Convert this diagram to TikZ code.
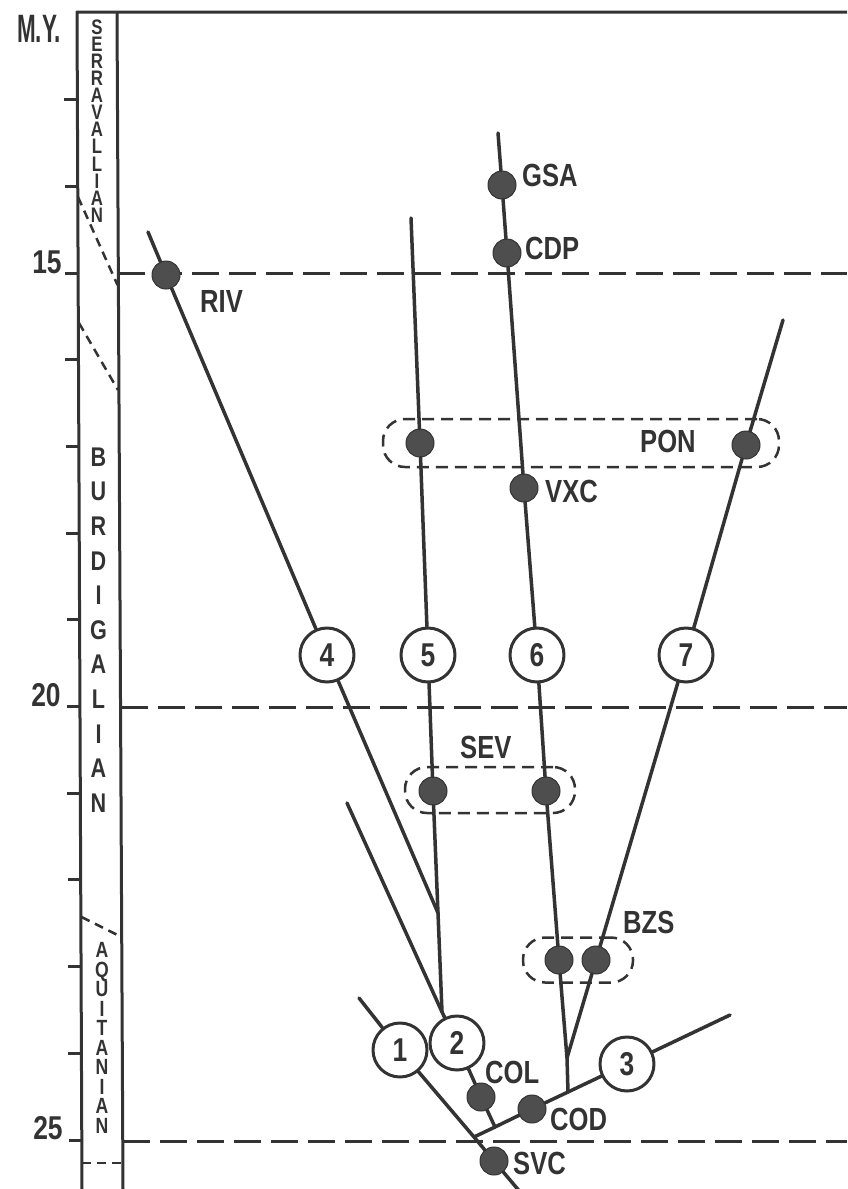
\documentclass[tikz,border=0pt]{standalone}
\usepackage{fontspec}
\setmainfont{Liberation Sans}
\newfontfamily\labfont[FakeStretch=0.8]{Liberation Sans}
\definecolor{ink}{HTML}{333333}
\definecolor{dotfill}{HTML}{4E4E4E}
\begin{document}
\begin{tikzpicture}[x=1pt,y=-1pt,line join=round,
  frame/.style={draw=ink,line width=3pt},
  branch/.style={draw=ink,line width=3.5pt,line cap=round},
  refdash/.style={draw=ink,line width=3pt,dash pattern=on 27pt off 10pt},
  coldash/.style={draw=ink,line width=2.5pt,dash pattern=on 9pt off 6pt},
  grp/.style={draw=ink,line width=2.5pt,dash pattern=on 12pt off 7pt,rounded corners=22pt,inner sep=0pt},
  dot/.style={circle,fill=dotfill,draw=ink,line width=1pt,minimum size=28pt,inner sep=0pt},
  num/.style={circle,draw=ink,line width=3pt,fill=white,minimum size=54pt,inner sep=0pt,
    font=\labfont\bfseries\fontsize{33}{36}\selectfont,text=ink},
  lab/.style={anchor=west,inner sep=0pt,font=\labfont\bfseries\fontsize{32}{36}\selectfont,text=ink},
  axlab/.style={inner sep=0pt,font=\labfont\bfseries\fontsize{33}{36}\selectfont,text=ink},
  stage/.style={inner sep=0pt,align=center,text=ink},
  colA/.style={stage,font=\labfont\bfseries\fontsize{21}{17.1}\selectfont},
  colB/.style={stage,font=\labfont\bfseries\fontsize{27}{34.6}\selectfont},
  colC/.style={stage,font=\labfont\bfseries\fontsize{22}{19.5}\selectfont}]
\useasboundingbox[fill=white] (0,0) rectangle (847,1189);

% frame and stage column
\draw[frame] (847,12) -- (77,12) -- (82,1189);
\draw[frame] (117,12) -- (123,1189);
\foreach \m in {13,...,25}{
  \pgfmathsetmacro\yy{273+86.7*(\m-15)}
  \pgfmathsetmacro\xx{77+5*(\yy-12)/1177}
  \draw[frame] (\xx-13,\yy) -- (\xx,\yy);
}
\node[axlab] (my) at (39,29) {\scalebox{0.85}[1.2]{M.Y.}};
\node[axlab] (y15) at (47,262) {15};
\node[axlab] (y20) at (46,695) {20};
\node[axlab] (y25) at (48,1128) {25};

% stage boundaries in column
\draw[coldash] (78,197) -- (117.5,285);
\draw[coldash] (79,323) -- (118,390);
\draw[coldash] (81.5,917) -- (121.5,937);
\draw[coldash] (82,1163) -- (123,1163);

% stage names
\node[colA] (serravallian) at (97,121) {S\\E\\R\\R\\A\\V\\A\\L\\L\\I\\A\\N};
\node[colB] (burdigalian) at (98.5,630) {B\\U\\R\\D\\I\\G\\A\\L\\I\\A\\N};
\node[colC] (aquitanian) at (102,1038) {A\\Q\\U\\I\\T\\A\\N\\I\\A\\N};

% time lines
\draw[refdash] (118.3,273) -- (847,273);
\draw[refdash] (120.5,707) -- (847,707);
\draw[refdash] (122.8,1141) -- (847,1141);

% groups
\node[grp,minimum width=396pt,minimum height=48pt] (ponbox) at (581,443) {};
\node[grp,minimum width=170pt,minimum height=46pt] (sevbox) at (490,790) {};
\node[grp,minimum width=110pt,minimum height=45pt] (bzsbox) at (578,960) {};

% coordinates
\coordinate (t4) at (148,232);
\coordinate (j45) at (438,913);
\coordinate (t5) at (411,218);
\coordinate (t2) at (347,803);
\coordinate (j2) at (442,1012);
\coordinate (j23) at (495,1127);
\coordinate (t1) at (359,998);
\coordinate (j13) at (474,1137);
\coordinate (b1) at (521,1193);
\coordinate (j67b) at (568,1092);
\coordinate (t3) at (730,1015);
\coordinate (t6) at (498,133);
\coordinate (j67) at (567,1058);
\coordinate (t7) at (783,320);

% nodes
\node[dot] (riv) at (166,275) {};
\node[num] (n4) at (327,655) {4};
\node[dot] (pon1) at (420,443) {};
\node[num] (n5) at (428,655) {5};
\node[dot] (sev1) at (433,791) {};
\node[num] (n2) at (457,1043) {2};
\node[dot] (col) at (481,1097) {};
\node[num] (n1) at (400,1050) {1};
\node[dot] (svc) at (494,1161) {};
\node[dot] (cod) at (532,1109) {};
\node[num] (n3) at (627,1064) {3};
\node[dot] (gsa) at (502,185) {};
\node[dot] (cdp) at (507,253) {};
\node[dot] (vxc) at (524,488) {};
\node[num] (n6) at (537,655) {6};
\node[dot] (sev2) at (546,791) {};
\node[dot] (bzs1) at (559,960) {};
\node[dot] (pon2) at (746,445) {};
\node[num] (n7) at (686,655) {7};
\node[dot] (bzs2) at (596,960) {};

% branches
\draw[branch] (t4) -- (riv) -- (n4) -- (j45);
\draw[branch] (t5) -- (pon1) -- (n5) -- (sev1) -- (j45) -- (j2);
\draw[branch] (t2) -- (j2) -- (n2) -- (col) -- (j23);
\draw[branch] (t1) -- (n1) -- (j13) -- (svc) -- (b1);
\draw[branch] (j13) -- (j23) -- (cod) -- (j67b) -- (n3) -- (t3);
\draw[branch] (t6) -- (gsa) -- (cdp) -- (vxc) -- (n6) -- (sev2) -- (bzs1) -- (j67) -- (j67b);
\draw[branch] (t7) -- (pon2) -- (n7) -- (bzs2) -- (j67);

% labels
\node[lab] (lgsa) at (522,175) {GSA};
\node[lab] (lcdp) at (525,248) {CDP};
\node[lab] (lriv) at (200,301) {RIV};
\node[lab] (lpon) at (640,441) {PON};
\node[lab] (lvxc) at (545,491) {VXC};
\node[lab] (lsev) at (460,747) {SEV};
\node[lab] (lbzs) at (623,922) {BZS};
\node[lab] (lcol) at (485,1072) {COL};
\node[lab] (lcod) at (550,1119) {COD};
\node[lab] (lsvc) at (513,1163) {SVC};
\end{tikzpicture}
\end{document}
